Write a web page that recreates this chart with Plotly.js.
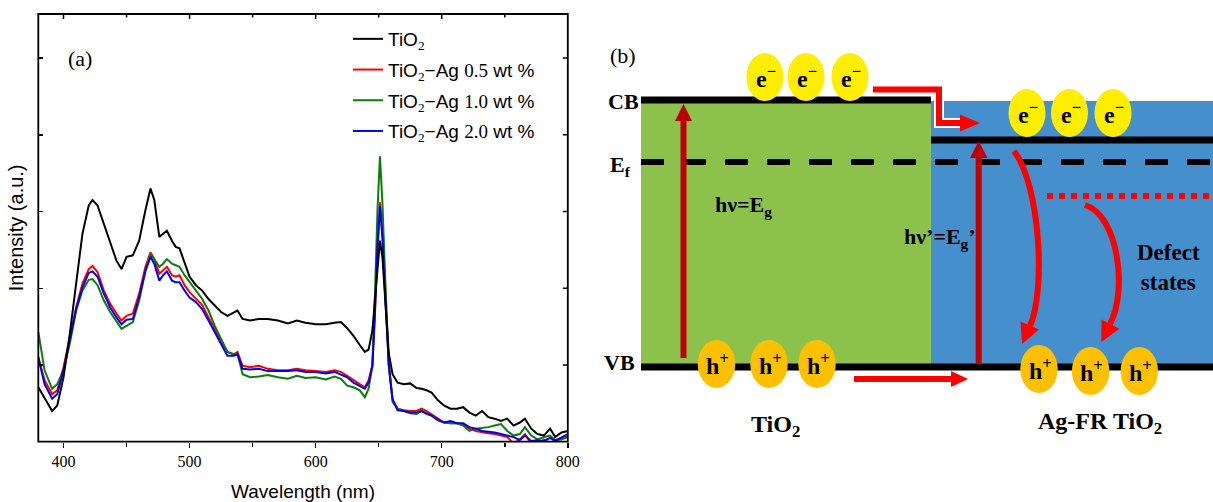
<!DOCTYPE html>
<html><head><meta charset="utf-8">
<script src="https://cdn.plot.ly/plotly-3.0.1.min.js"></script>
<style>html,body{margin:0;padding:0;background:#fff}#chart{width:1213px;height:502px}</style>
</head><body><div id="chart"></div>
<script>
// ---------- Panel (a) data: PL spectra ----------
const wavelength = [380,385,391,395,400,405,410,415,420,423,427,432,437,442,446,450,455,460,465,469,472,476,479,482,486,489,492,496,500,505,510,515,520,525,530,535,538,542,548,555,562,570,578,585,592,600,608,615,620,625,630,635,639,642,645,647,649,651,653,655,658,661,665,670,675,680,684,688,692,697,702,707,712,717,722,727,732,737,742,747,752,757,762,766,771,776,781,786,790,795,800];
const tio2 = [0.71,0.56,0.40,0.47,0.84,1.41,2.06,2.71,3.08,3.15,3.08,2.84,2.58,2.36,2.25,2.41,2.43,2.62,3.02,3.30,3.15,2.67,2.71,2.75,2.62,2.54,2.52,2.32,2.15,2.04,1.97,1.86,1.78,1.69,1.64,1.69,1.71,1.60,1.58,1.60,1.60,1.58,1.54,1.58,1.55,1.53,1.53,1.55,1.56,1.48,1.38,1.26,1.17,1.20,1.45,1.85,2.30,2.62,2.40,1.90,1.15,0.88,0.77,0.75,0.76,0.70,0.69,0.67,0.64,0.54,0.47,0.43,0.43,0.45,0.38,0.34,0.40,0.32,0.30,0.27,0.30,0.21,0.25,0.30,0.17,0.10,0.08,0.17,0.06,0.12,0.14];
const ag05 = [1.10,0.80,0.62,0.67,0.97,1.36,1.75,2.06,2.25,2.29,2.21,1.97,1.80,1.67,1.58,1.64,1.67,1.93,2.28,2.47,2.38,2.19,2.24,2.28,2.17,2.15,2.17,2.04,1.95,1.86,1.78,1.62,1.47,1.32,1.17,1.14,1.17,0.99,0.97,0.99,0.95,0.93,0.93,0.95,0.93,0.92,0.91,0.93,0.91,0.86,0.80,0.75,0.71,0.80,1.00,1.70,2.60,3.12,2.70,2.00,1.00,0.55,0.43,0.41,0.40,0.40,0.43,0.40,0.36,0.30,0.25,0.24,0.24,0.22,0.17,0.14,0.12,0.11,0.10,0.08,0.06,-0.02,0.03,0.10,-0.03,-0.05,0.03,-0.02,0.02,0.05,0.08];
const ag10 = [1.43,0.93,0.69,0.75,0.93,1.28,1.71,1.97,2.11,2.12,2.04,1.84,1.69,1.56,1.47,1.51,1.56,1.84,2.23,2.44,2.38,2.28,2.32,2.38,2.32,2.30,2.28,2.17,2.08,1.97,1.86,1.71,1.51,1.34,1.17,1.14,1.15,0.88,0.84,0.85,0.87,0.84,0.82,0.86,0.83,0.84,0.81,0.85,0.82,0.73,0.71,0.67,0.58,0.69,1.00,1.90,3.00,3.72,3.10,2.20,1.00,0.52,0.43,0.40,0.37,0.36,0.40,0.36,0.34,0.28,0.25,0.24,0.24,0.21,0.14,0.17,0.18,0.19,0.21,0.23,0.14,0.08,0.10,0.19,0.08,0.03,0.06,0.08,0.02,0.03,0.06];
const ag20 = [1.10,0.75,0.56,0.62,0.93,1.34,1.73,2.01,2.20,2.22,2.15,1.93,1.75,1.62,1.53,1.59,1.60,1.88,2.23,2.41,2.32,2.10,2.17,2.22,2.10,2.08,2.08,1.97,1.88,1.82,1.73,1.58,1.43,1.28,1.12,1.12,1.14,0.95,0.94,0.95,0.92,0.92,0.92,0.93,0.91,0.91,0.89,0.91,0.88,0.84,0.77,0.72,0.69,0.77,0.98,1.65,2.55,3.07,2.65,1.95,1.00,0.55,0.41,0.40,0.38,0.38,0.40,0.37,0.34,0.28,0.25,0.27,0.24,0.24,0.19,0.17,0.14,0.13,0.12,0.10,0.08,0.06,0.02,0.08,0.01,0.02,0.01,0.05,0.01,0.06,0.10];
const seriesNames = [
  'TiO<sub><span style="font-family:Liberation Serif">2</span></sub>',
  'TiO<sub><span style="font-family:Liberation Serif">2</span></sub>−Ag <span style="font-family:Liberation Serif">0.5</span> wt %',
  'TiO<sub><span style="font-family:Liberation Serif">2</span></sub>−Ag <span style="font-family:Liberation Serif">1.0</span> wt %',
  'TiO<sub><span style="font-family:Liberation Serif">2</span></sub>−Ag <span style="font-family:Liberation Serif">2.0</span> wt %'
];
const seriesValues = [tio2, ag05, ag10, ag20];
const seriesColors = ['#000000', '#FF0000', '#0A7D0A', '#0000EE'];
const xTickValues = [400, 500, 600, 700, 800];
const xMinorTickValues = [450, 550, 650, 750];
const yTickValues = [1, 2, 3, 4, 5];

const W = 1213, H = 502;
const SERIF = 'Liberation Serif, Times New Roman, serif';
const SANS = 'Liberation Sans, Arial, sans-serif';

const traces = [];
[1, 2, 3, 0].forEach(i => {
  traces.push({
    x: wavelength, y: seriesValues[i], type: 'scatter', mode: 'lines',
    name: seriesNames[i], legendgroup: 'g' + i, legendrank: i + 1,
    line: {color: seriesColors[i], width: 2}, hoverinfo: 'skip'
  });
});

const XDOM = [38.3 / W, 567.8 / W], YDOM = [1 - 441.7 / H, 1 - 14 / H];
const plotWpx = 567.8 - 38.3, plotHpx = 441.7 - 14;

// ---------- Panel (b): band diagram (paper coordinates from figure pixels) ----------
const GREEN = '#8CC24C', BLUE = '#458FCD', YELLOW = '#FFEE00', ORANGE = '#FFC000', RED = '#FF0000', DRED = '#C00000';
const PX = x => x / W, PY = y => 1 - y / H;
const P = pts => pts.map(p => PX(p[0]).toFixed(5) + ',' + PY(p[1]).toFixed(5));
const shapes = [];
function rect(x0, y0, x1, y1, fill) { shapes.push({type: 'rect', xref: 'paper', yref: 'paper', x0: PX(x0), y0: PY(y0), x1: PX(x1), y1: PY(y1), fillcolor: fill, line: {width: 0}}); }
function seg(x0, y0, x1, y1, color, width, dash) { shapes.push({type: 'line', xref: 'paper', yref: 'paper', x0: PX(x0), y0: PY(y0), x1: PX(x1), y1: PY(y1), line: {color, width, dash: dash || 'solid'}}); }
function poly(pts, color) { shapes.push({type: 'path', xref: 'paper', yref: 'paper', path: 'M' + P(pts).join('L') + 'Z', fillcolor: color, line: {width: 0}}); }
function polyline(pts, color, width) { shapes.push({type: 'path', xref: 'paper', yref: 'paper', path: 'M' + P(pts).join('L'), fillcolor: 'rgba(0,0,0,0)', line: {color, width}}); }
function bezier(p0, c1, c2, p1, color, width) { const q = P([p0, c1, c2, p1]); shapes.push({type: 'path', xref: 'paper', yref: 'paper', path: 'M' + q[0] + 'C' + q[1] + ' ' + q[2] + ' ' + q[3], fillcolor: 'rgba(0,0,0,0)', line: {color, width}}); }
function ell(cx, cy, rx, ry, fill) { shapes.push({type: 'circle', xref: 'paper', yref: 'paper', x0: PX(cx - rx), x1: PX(cx + rx), y0: PY(cy - ry), y1: PY(cy + ry), fillcolor: fill, line: {width: 0}}); }

// frame of panel (a) and mirrored inward ticks on top / right (placed through the axis scales)
shapes.push({type: 'rect', xref: 'x domain', yref: 'y domain', x0: 0, x1: 1, y0: 0, y1: 1, line: {color: '#000', width: 1.8}, fillcolor: 'rgba(0,0,0,0)'});
xTickValues.forEach(v => shapes.push({type: 'line', xref: 'x', yref: 'y domain', x0: v, x1: v, y0: 1, y1: 1 - 5 / plotHpx, line: {color: '#000', width: 1.5}}));
xMinorTickValues.forEach(v => shapes.push({type: 'line', xref: 'x', yref: 'y domain', x0: v, x1: v, y0: 1, y1: 1 - 3.5 / plotHpx, line: {color: '#000', width: 1.5}}));
yTickValues.forEach(v => shapes.push({type: 'line', xref: 'x domain', yref: 'y', x0: 1, x1: 1 - 5 / plotWpx, y0: v, y1: v, line: {color: '#000', width: 1.5}}));

rect(641, 100, 931, 366, GREEN);
rect(931, 101, 1213, 366, BLUE);
seg(641, 162, 1213, 162, '#000', 6, '23px,19px');
seg(641, 100, 931, 100, '#000', 7);
seg(931, 140, 1213, 140, '#000', 7);
seg(641, 367, 1213, 367, '#000', 7);
seg(1047, 196, 1213, 196, RED, 6, '6px,6px');
// photo-excitation arrows
seg(683.5, 358, 683.5, 119, DRED, 6); poly([[683.5, 104], [675, 121], [692, 121]], DRED);
seg(978.7, 363, 978.7, 156, DRED, 6); poly([[978.7, 141], [970, 158], [987.5, 158]], DRED);
// electron transfer arrow (white outline + red)
polyline([[873, 89.5], [939, 89.5], [939, 123], [962, 123]], '#FFFFFF', 10);
polyline([[873, 89.5], [939, 89.5], [939, 123], [962, 123]], RED, 6);
poly([[980, 123], [960, 114.5], [960, 131.5]], RED);
// hole transfer arrow
seg(854, 379, 953, 379, RED, 6); poly([[968, 379], [951, 371], [951, 387]], RED);
// recombination curves
bezier([1014, 151], [1040, 185], [1046, 290], [1030, 326], RED, 6);
poly([[1022, 344], [1039, 329.4], [1020.5, 321.6]], RED);
bezier([1085, 205], [1118, 215], [1128, 290], [1110, 324], RED, 6);
poly([[1101.3, 342], [1119.3, 328.7], [1101.5, 319.5]], RED);
// carriers
const eLeft = [[765, 77], [806, 77], [850, 77]];
const eRight = [[1027, 113], [1069.5, 113], [1113, 113]];
const hLeft = [[716.5, 364], [769, 364], [817, 364]];
const hRight = [[1039, 369], [1090.6, 371], [1139.3, 371]];
eLeft.concat(eRight).forEach(p => ell(p[0], p[1], 18.5, 24, YELLOW));
hLeft.concat(hRight).forEach(p => ell(p[0], p[1], 18.7, 24, ORANGE));

const annotations = [];
function txt(x, y, text, size) {
  annotations.push({xref: 'paper', yref: 'paper', x: PX(x), y: PY(y), text, showarrow: false, xanchor: 'center', yanchor: 'middle',
    font: {family: SERIF, size, color: '#000'}});
}
txt(622.5, 55, '(b)', 22);
txt(623.5, 101, '<b>CB</b>', 22);
txt(620, 166, '<b>E<sub>f</sub></b>', 22);
txt(619.5, 362, '<b>VB</b>', 22);
txt(743, 206, '<b>hν=E<sub>g</sub></b>', 22);
txt(940, 238, '<b>hν’=E<sub>g</sub>’</b>', 22);
eLeft.concat(eRight).forEach(p => txt(p[0] + 1, p[1], '<b>e<sup>−</sup></b>', 24));
hLeft.concat(hRight).forEach(p => txt(p[0] + 1, p[1], '<b>h<sup>+</sup></b>', 24));
txt(1168, 267, '<b>Defect<br>states</b>', 23);
txt(775, 426, '<b>TiO<sub>2</sub></b>', 24);
txt(1100, 423, '<b>Ag-FR TiO<sub>2</sub></b>', 24);
// panel label (a)
annotations.push({xref: 'x', yref: 'y', x: 413, y: 5.0, text: '(a)', showarrow: false, font: {family: SERIF, size: 22, color: '#000'}});

const layout = {
  width: W, height: H, margin: {l: 0, r: 0, t: 0, b: 0},
  paper_bgcolor: '#fff', plot_bgcolor: 'rgba(0,0,0,0)', hovermode: false,
  xaxis: {
    domain: XDOM, range: [380, 800], tickvals: xTickValues,
    ticks: 'outside', ticklen: 5, tickwidth: 1.5, tickcolor: '#000',
    minor: {dtick: 50, ticks: 'outside', ticklen: 4, tickwidth: 1.5, tickcolor: '#000'},
    showline: false,
    showgrid: false, zeroline: false, tickfont: {family: SERIF, size: 16, color: '#000'},
    title: {text: 'Wavelength (nm)', font: {family: SANS, size: 19, color: '#000'}, standoff: 17}
  },
  yaxis: {
    domain: YDOM, range: [0, 5.575], tickvals: yTickValues,
    ticks: 'inside', ticklen: 5, tickwidth: 1.5, tickcolor: '#000', showticklabels: false,
    showline: false,
    showgrid: false, zeroline: false,
    title: {text: 'Intensity (a.u.)', font: {family: SANS, size: 20, color: '#000'}, standoff: 8}
  },
  showlegend: true,
  legend: {
    x: 348 / W, y: 1 - 20 / H, xanchor: 'left', yanchor: 'top',
    font: {family: SANS, size: 19, color: '#000'}, bgcolor: 'rgba(0,0,0,0)',
    tracegroupgap: 3, traceorder: 'grouped', itemwidth: 30
  },
  shapes, annotations
};

Plotly.newPlot('chart', traces, layout, {staticPlot: true, displayModeBar: false});
</script></body></html>
